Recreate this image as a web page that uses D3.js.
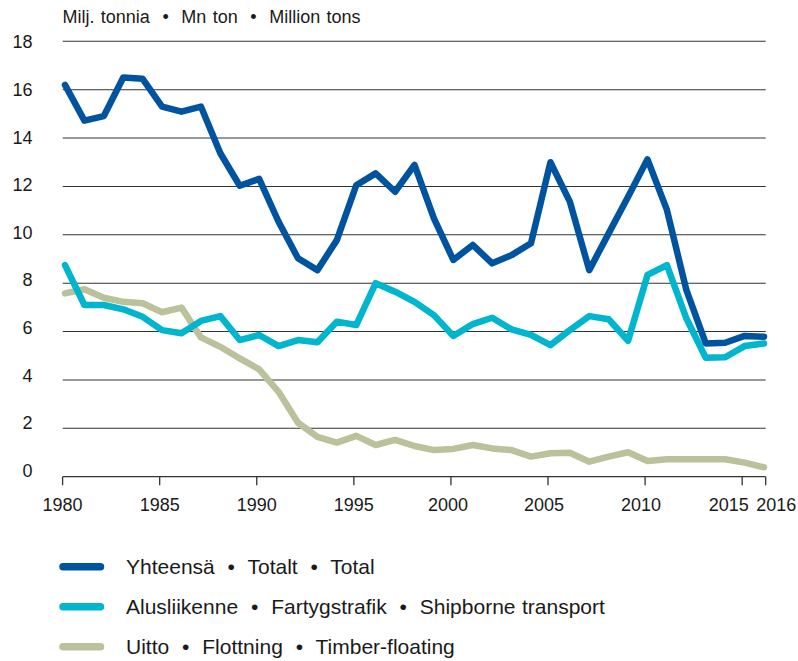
<!DOCTYPE html>
<html><head><meta charset="utf-8">
<script src="https://cdn.jsdelivr.net/npm/d3@7"></script>
<style>
html,body{margin:0;padding:0;background:#fff;}
svg{display:block;font-family:"Liberation Sans",Arial,sans-serif;}
</style></head>
<body>
<svg id="chart" width="798" height="661"></svg>
<script>
const years = d3.range(1980, 2017);
const totalValues = [16.2,14.72,14.91,16.5,16.45,15.3,15.09,15.3,13.37,12.03,
  12.31,10.54,9.03,8.54,9.78,12.05,12.54,11.78,12.89,10.68,
  8.96,9.58,8.82,9.16,9.65,13.0,11.37,8.54,10.06,11.57,
  13.12,11.03,7.72,5.51,5.54,5.82,5.79];
const shipValues = [8.75,7.10,7.10,6.92,6.61,6.06,5.93,6.44,6.64,5.65,
  5.86,5.40,5.65,5.56,6.41,6.27,8.0,7.65,7.23,6.68,
  5.82,6.31,6.57,6.09,5.86,5.44,6.06,6.64,6.51,5.62,
  8.34,8.75,6.55,4.92,4.94,5.40,5.51];
const floatValues = [7.58,7.75,7.40,7.23,7.17,6.80,6.99,5.76,5.37,4.89,
  4.44,3.51,2.23,1.65,1.41,1.69,1.31,1.52,1.27,1.10,
  1.15,1.31,1.17,1.10,0.83,0.97,0.99,0.62,0.83,1.01,
  0.65,0.72,0.72,0.72,0.72,0.58,0.39];
const yTicks = [0,2,4,6,8,10,12,14,16,18];
const xTicks = [1980,1985,1990,1995,2000,2005,2010,2015,2016];
const seriesNames = ["Yhteensä  •  Totalt  •  Total",
  "Alusliikenne  •  Fartygstrafik  •  Shipborne transport",
  "Uitto  •  Flottning  •  Timber-floating"];
const seriesColors = ["#00549F", "#00B5CE", "#B9C29B"];
const unitLabel = "Milj. tonnia  •  Mn ton  •  Million tons";

(function () {
const svg = d3.select("#chart");
const pLeft = 62.7, pRight = 765.7, pTop = 41.3, pBottom = 476.7;
const x = d3.scaleLinear().domain([1980, 2016]).range([65, 764]);
const y = d3.scaleLinear().domain([0, 18]).range([pBottom, pTop]);
const yLab = d3.scaleLinear().domain([0, 18]).range([470.5, 42]);

// gridlines
svg.append("g").selectAll("line").data(yTicks.filter(d => d > 0)).join("line")
  .attr("x1", pLeft).attr("x2", pRight)
  .attr("y1", d => y(d)).attr("y2", d => y(d))
  .attr("stroke", "#333").attr("stroke-width", 1.1);

// y labels
svg.append("g").selectAll("text").data(yTicks).join("text")
  .attr("x", 32.5).attr("y", d => yLab(d)).attr("dy", "0.35em")
  .attr("text-anchor", "end").attr("font-size", 18).attr("fill", "#1a1a1a")
  .text(d => d);

// x axis
const tickPos = d => d === 2016 ? pRight : x(d) - 2.4;
const axisG = svg.append("g");
axisG.append("line").attr("x1", pLeft).attr("x2", pRight)
  .attr("y1", pBottom).attr("y2", pBottom).attr("stroke", "#333").attr("stroke-width", 1.3);
axisG.selectAll("line.tick").data(xTicks).join("line").attr("class", "tick")
  .attr("x1", tickPos).attr("x2", tickPos)
  .attr("y1", pBottom).attr("y2", pBottom + 8.5)
  .attr("stroke", "#333").attr("stroke-width", 1.3);
axisG.selectAll("text").data(xTicks).join("text")
  .attr("x", d => tickPos(d) + (d === 2015 ? -13.5 : d === 2016 ? 10.5 : (d >= 2005 ? -4 : d >= 2000 ? -3 : 0)))
  .attr("y", 510.5)
  .attr("text-anchor", "middle").attr("font-size", 18).attr("fill", "#1a1a1a")
  .text(d => d);

// unit label
svg.append("text").attr("x", 62.5).attr("y", 22.8).attr("font-size", 18).attr("fill", "#1a1a1a")
  .attr("word-spacing", 1.3)
  .style("white-space", "pre").text(unitLabel);

// lines
const line = d3.line().x((d, i) => x(years[i])).y(d => y(d));
const seriesData = [totalValues, shipValues, floatValues];
[2, 1, 0].forEach(k => {
  svg.append("path").datum(seriesData[k]).attr("d", line)
    .attr("fill", "none").attr("stroke", seriesColors[k]).attr("stroke-width", 6.5)
    .attr("stroke-linejoin", "round").attr("stroke-linecap", "round");
});

// legend
const legendY = [566.7, 606.7, 646.7];
const lg = svg.append("g");
seriesNames.forEach((name, k) => {
  lg.append("line").attr("x1", 63).attr("x2", 100.5)
    .attr("y1", legendY[k]).attr("y2", legendY[k])
    .attr("stroke", seriesColors[k]).attr("stroke-width", 7.5).attr("stroke-linecap", "round");
  lg.append("text").attr("x", 126).attr("y", legendY[k]).attr("dy", "0.36em")
    .attr("font-size", 21).attr("fill", "#1a1a1a").attr("word-spacing", 0.6)
    .style("white-space", "pre").text(name);
});
})();
</script>
</body></html>
